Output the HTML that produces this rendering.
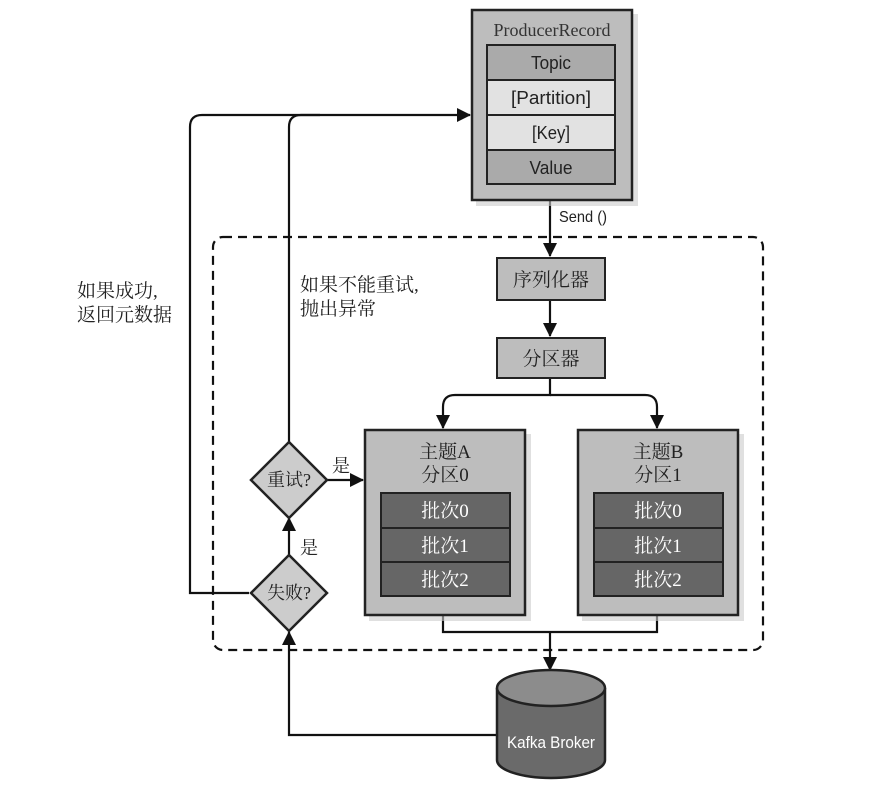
<!DOCTYPE html>
<html><head><meta charset="utf-8"><style>
html,body{margin:0;padding:0;background:#fff;}
svg{display:block;}
.cn{font-family:"Liberation Serif","Noto Serif CJK SC",serif;}
.sn{font-family:"Liberation Sans",sans-serif;}
</style></head><body>
<svg width="869" height="787" viewBox="0 0 869 787" xmlns="http://www.w3.org/2000/svg">
<defs>
<marker id="b" viewBox="0 0 14 14" markerWidth="14" markerHeight="14" refX="13" refY="7" orient="auto" markerUnits="userSpaceOnUse">
<path d="M0,0 L14,7 L0,14 z" fill="#111"/></marker>
</defs>
<g fill="none" stroke="#111" stroke-width="2.2">
<rect x="213" y="237" width="550" height="413" rx="10" stroke-dasharray="9,6"/>
<path d="M249,593 H190 V127 Q190,115 202,115 H470" marker-end="url(#b)"/>
<path d="M289,442 V127 Q289,115 301,115 H320"/>
<path d="M550,200 V256" marker-end="url(#b)"/>
<path d="M550,300 V336" marker-end="url(#b)"/>
<path d="M550,378 V395 H455 Q443,395 443,407 V428" marker-end="url(#b)"/>
<path d="M550,395 H645 Q657,395 657,407 V428" marker-end="url(#b)"/>
<path d="M443,615 V632 H657 V615"/>
<path d="M550,632 V670" marker-end="url(#b)"/>
<path d="M497,735 H289 V632" marker-end="url(#b)"/>
<path d="M289,555 V518" marker-end="url(#b)"/>
<path d="M326,480 H363" marker-end="url(#b)"/>
</g>
<g fill="#ccc" opacity="0.6">
<rect x="476" y="14" width="162" height="192"/>
<rect x="369" y="434" width="162" height="187"/>
<rect x="582" y="434" width="162" height="187"/>
</g>
<rect x="472" y="10" width="160" height="190" fill="#bdbdbd" stroke="#222" stroke-width="2.5"/>
<text x="552" y="36" class="cn" font-size="18" fill="#333" text-anchor="middle">ProducerRecord</text>
<g stroke="#222" stroke-width="2">
<rect x="487" y="45" width="128" height="35" fill="#aaa"/>
<rect x="487" y="80" width="128" height="35" fill="#e2e2e2"/>
<rect x="487" y="115" width="128" height="35" fill="#e2e2e2"/>
<rect x="487" y="150" width="128" height="34" fill="#aaa"/>
</g>
<g class="sn" font-size="18" fill="#222" text-anchor="middle" lengthAdjust="spacingAndGlyphs">
<text x="551" y="69" textLength="40" lengthAdjust="spacingAndGlyphs">Topic</text>
<text x="551" y="104" textLength="80" lengthAdjust="spacingAndGlyphs">[Partition]</text>
<text x="551" y="139" textLength="38" lengthAdjust="spacingAndGlyphs">[Key]</text>
<text x="551" y="174" textLength="43" lengthAdjust="spacingAndGlyphs">Value</text>
<text x="583" y="222" font-size="16" textLength="48" lengthAdjust="spacingAndGlyphs">Send ()</text>
</g>
<g stroke="#222" stroke-width="2" fill="#bdbdbd">
<rect x="497" y="258" width="108" height="42"/>
<rect x="497" y="338" width="108" height="40"/>
</g>
<g class="cn" font-size="19" fill="#222" text-anchor="middle">
<text x="551" y="286">序列化器</text><text x="551" y="365">分区器</text>
</g>
<g stroke="#222" stroke-width="2.5" fill="#bdbdbd">
<rect x="365" y="430" width="160" height="185"/>
<rect x="578" y="430" width="160" height="185"/>
</g>
<g stroke="#222" stroke-width="2" fill="#666">
<rect x="381" y="493" width="129" height="35"/><rect x="381" y="528" width="129" height="34"/><rect x="381" y="562" width="129" height="34"/>
<rect x="594" y="493" width="129" height="35"/><rect x="594" y="528" width="129" height="34"/><rect x="594" y="562" width="129" height="34"/>
</g>
<g class="cn" font-size="19" text-anchor="middle" fill="#222">
<text x="445" y="458">主题A</text><text x="445" y="481">分区0</text>
<text x="658" y="458">主题B</text><text x="658" y="481">分区1</text>
</g>
<g class="cn" font-size="19" text-anchor="middle" fill="#fff">
<text x="445" y="517">批次0</text><text x="445" y="552">批次1</text><text x="445" y="586">批次2</text>
<text x="658" y="517">批次0</text><text x="658" y="552">批次1</text><text x="658" y="586">批次2</text>
</g>
<g stroke="#222" stroke-width="2.5" fill="#ccc">
<polygon points="289,442 327,480 289,518 251,480"/>
<polygon points="289,555 327,593 289,631 251,593"/>
</g>
<g class="cn" font-size="18" text-anchor="middle" fill="#222">
<text x="289" y="486">重试?</text><text x="289" y="599">失败?</text>
<text x="341" y="472">是</text><text x="309" y="554">是</text>
</g>
<g class="cn" font-size="19" fill="#222">
<text x="77" y="297">如果成功,</text><text x="77" y="321">返回元数据</text>
<text x="300" y="291">如果不能重试,</text><text x="300" y="315">抛出异常</text>
</g>
<path d="M497,688 V760 A54,18 0 0 0 605,760 V688" fill="#6a6a6a" stroke="#222" stroke-width="2.5"/>
<ellipse cx="551" cy="688" rx="54" ry="18" fill="#8c8c8c" stroke="#222" stroke-width="2.5"/>
<text x="551" y="748" class="sn" font-size="17" fill="#fff" text-anchor="middle" textLength="88" lengthAdjust="spacingAndGlyphs">Kafka Broker</text>
</svg>
</body></html>
